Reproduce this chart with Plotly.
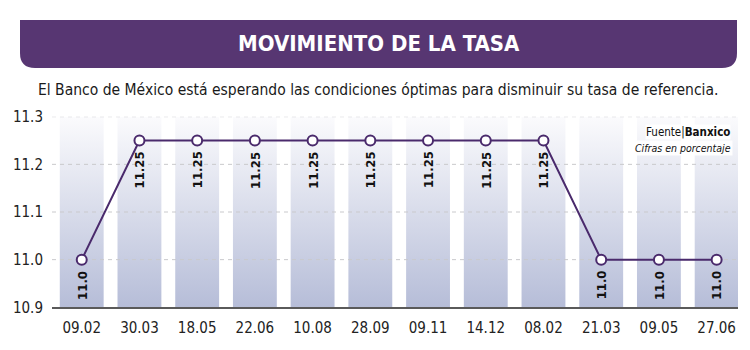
import plotly.graph_objects as go

# ---- data ----
dates = ["09.02", "30.03", "18.05", "22.06", "10.08", "28.09",
         "09.11", "14.12", "08.02", "21.03", "09.05", "27.06"]
rates = [11.0, 11.25, 11.25, 11.25, 11.25, 11.25,
         11.25, 11.25, 11.25, 11.0, 11.0, 11.0]
labels = ["11.0", "11.25", "11.25", "11.25", "11.25", "11.25",
          "11.25", "11.25", "11.25", "11.0", "11.0", "11.0"]
y_ticks = [10.9, 11.0, 11.1, 11.2, 11.3]
y_ticktext = ["10.9", "11.0", "11.1", "11.2", "11.3"]

title = "MOVIMIENTO DE LA TASA"
subtitle = "El Banco de México está esperando las condiciones óptimas para disminuir su tasa de referencia."

# ---- style ----
W, H = 750, 350
PURPLE = "#573672"
LINE = "#4a2a6c"
FONT = "DejaVu Sans Condensed, sans-serif"
X_RANGE = [-0.515, 11.37]
Y_RANGE = [10.9, 11.3]
COL_HALF = 0.38


def px(x):
    return x / W


def py(y):
    return 1 - y / H


fig = go.Figure()

# background gradient columns (one per category)
for i, _ in enumerate(dates):
    fig.add_trace(go.Scatter(
        x=[i - COL_HALF, i + COL_HALF, i + COL_HALF, i - COL_HALF, i - COL_HALF],
        y=[Y_RANGE[0], Y_RANGE[0], Y_RANGE[1], Y_RANGE[1], Y_RANGE[0]],
        mode="lines", fill="toself", line=dict(width=0),
        fillgradient=dict(type="vertical",
                          colorscale=[[0, "#b6bdd8"], [1, "#fbfbfd"]]),
        hoverinfo="skip", showlegend=False))

# dashed gridlines above the columns
for v in y_ticks[1:]:
    fig.add_trace(go.Scatter(
        x=X_RANGE, y=[v, v], mode="lines",
        line=dict(color="#c9c9cc", width=1, dash="4px,4px"),
        hoverinfo="skip", showlegend=False))

# main line
fig.add_trace(go.Scatter(
    x=list(range(len(dates))), y=rates, mode="lines+markers",
    line=dict(color=LINE, width=2),
    marker=dict(symbol="circle", size=10, color="white",
                line=dict(color=LINE, width=2)),
    showlegend=False, cliponaxis=False))

# rotated value labels
for i, (v, t) in enumerate(zip(rates, labels)):
    fig.add_annotation(x=i, y=v, xref="x", yref="y", text=f"<b>{t}</b>",
                       textangle=-90, showarrow=False, yanchor="top",
                       xanchor="center", yshift=-9,
                       font=dict(family=FONT, size=13, color="#111"))

# title banner
r = 15
x0, x1, y0, y1 = 20, 737, 20, 68
path = (f"M {px(x0)},{py(y0)} L {px(x1)},{py(y0)} L {px(x1)},{py(y1 - r)} "
        f"Q {px(x1)},{py(y1)} {px(x1 - r)},{py(y1)} L {px(x0 + r)},{py(y1)} "
        f"Q {px(x0)},{py(y1)} {px(x0)},{py(y1 - r)} Z")
fig.add_shape(type="path", path=path, xref="paper", yref="paper",
              fillcolor=PURPLE, line=dict(width=0), layer="above")

fig.add_annotation(x=px(378.5), y=py(44), xref="paper", yref="paper",
                   xanchor="center", yanchor="middle",
                   text=f"<b>{title}</b>", showarrow=False,
                   font=dict(family=FONT, size=22, color="white"))
fig.add_annotation(x=px(377.5), y=py(90), xref="paper", yref="paper",
                   xanchor="center", yanchor="middle",
                   text=subtitle, showarrow=False,
                   font=dict(family=FONT, size=15.5, color="#1a1a1a"))

fig.add_annotation(x=px(731), y=py(132), xref="paper", yref="paper",
                   xanchor="right", yanchor="middle",
                   text="Fuente|<b>Banxico</b>", showarrow=False,
                   bgcolor="rgba(255,255,255,0.9)", borderpad=0,
                   font=dict(family=FONT, size=11.5, color="#111"))
fig.add_annotation(x=px(733), y=py(148), xref="paper", yref="paper",
                   xanchor="right", yanchor="middle",
                   text="<i>Cifras en porcentaje</i>", showarrow=False,
                   bgcolor="rgba(255,255,255,0.9)", borderpad=1,
                   font=dict(family=FONT, size=10.5, color="#111"))

fig.update_layout(
    width=W, height=H,
    margin=dict(l=0, r=0, t=0, b=0, pad=0, autoexpand=False),
    paper_bgcolor="white", plot_bgcolor="white",
    xaxis=dict(domain=[px(52), px(738)], range=X_RANGE, automargin=False,
               tickmode="array", tickvals=list(range(len(dates))), ticktext=dates,
               showgrid=False, zeroline=False, showline=True,
               linecolor="#5a5a5a", linewidth=1.5, ticks="",
               ticklabelstandoff=6,
               tickfont=dict(family=FONT, size=15, color="#222")),
    yaxis=dict(domain=[py(307.3), py(116.7)], range=Y_RANGE, automargin=False,
               tickmode="array", tickvals=y_ticks, ticktext=y_ticktext,
               showgrid=False, zeroline=False, showline=False, ticks="",
               ticklabelstandoff=8,
               tickfont=dict(family=FONT, size=15, color="#222")),
)

fig.write_html("out.html")
